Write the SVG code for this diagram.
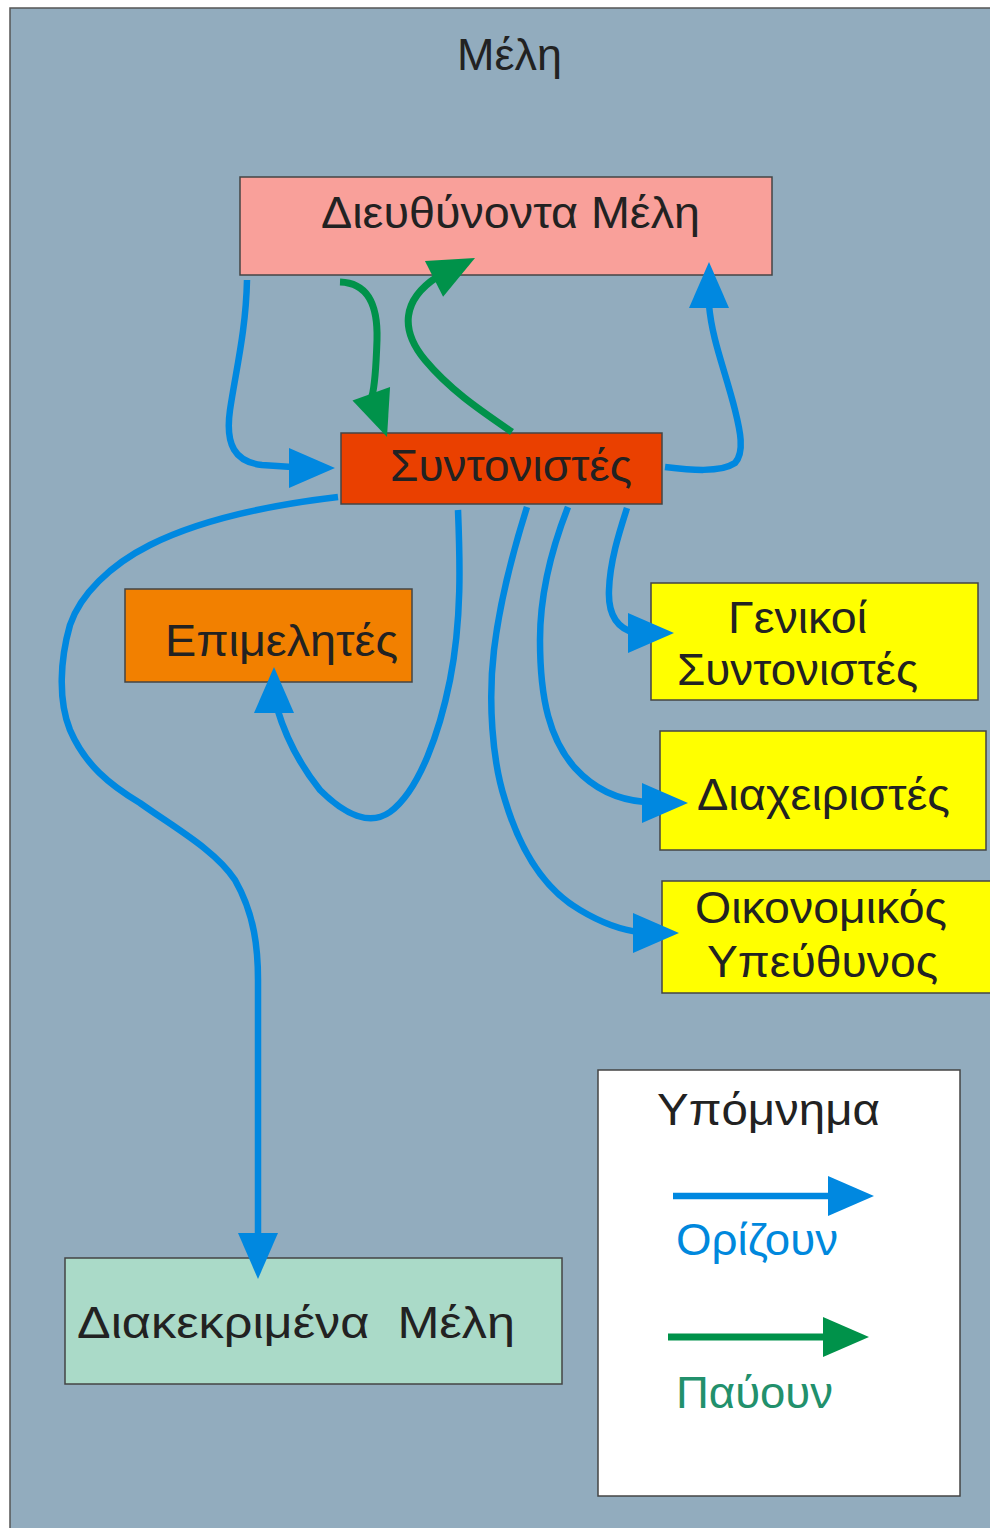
<svg xmlns="http://www.w3.org/2000/svg" width="990" height="1528" viewBox="0 0 990 1528">
<style>
.box{stroke:#444;stroke-width:1.5}
.t{font-family:"Liberation Sans",Arial,sans-serif;font-size:44px;fill:#222}
.cb{fill:none;stroke:#0088e0;stroke-width:6.5;stroke-linecap:butt;stroke-linejoin:round}
.cg{fill:none;stroke:#00924a;stroke-width:7;stroke-linecap:butt;stroke-linejoin:round}
.ab{fill:#0088e0}
.ag{fill:#00924a}
</style>
<defs>
<path id="ah" d="M0,0 L-46,-20 L-46,20 Z"/>
</defs>
<rect x="10" y="8" width="990" height="1530" fill="#92acbe" stroke="#555" stroke-width="1.5"/>
<text class="t" x="457" y="70" font-size="48" textLength="105" lengthAdjust="spacingAndGlyphs">Μέλη</text>

<g id="dieuthynonta">
<rect class="box" x="240" y="177" width="532" height="98" fill="#f9a09a"/>
<text class="t" x="321" y="228" textLength="379" lengthAdjust="spacingAndGlyphs">Διευθύνοντα Μέλη</text>
</g>
<g id="syntonistes">
<rect class="box" x="341" y="433" width="321" height="71" fill="#ea4000"/>
<text class="t" x="390" y="481" textLength="242" lengthAdjust="spacingAndGlyphs">Συντονιστές</text>
</g>
<g id="epimelites">
<rect class="box" x="125" y="589" width="287" height="93" fill="#f28000"/>
<text class="t" x="165" y="656" textLength="233" lengthAdjust="spacingAndGlyphs">Επιμελητές</text>
</g>
<g id="genikoi">
<rect class="box" x="651" y="583" width="327" height="117" fill="#ffff00"/>
<text class="t" x="728" y="633" textLength="139" lengthAdjust="spacingAndGlyphs">Γενικοί</text>
<text class="t" x="677" y="685" textLength="241" lengthAdjust="spacingAndGlyphs">Συντονιστές</text>
</g>
<g id="diaxeiristes">
<rect class="box" x="660" y="731" width="326" height="119" fill="#ffff00"/>
<text class="t" x="697" y="810" textLength="253" lengthAdjust="spacingAndGlyphs">Διαχειριστές</text>
</g>
<g id="oikonomikos">
<rect class="box" x="662" y="881" width="335" height="112" fill="#ffff00"/>
<text class="t" x="695" y="923" textLength="252" lengthAdjust="spacingAndGlyphs">Οικονομικός</text>
<text class="t" x="707" y="977" textLength="231" lengthAdjust="spacingAndGlyphs">Υπεύθυνος</text>
</g>
<g id="diakekrimena">
<rect class="box" x="65" y="1258" width="497" height="126" fill="#aadac8"/>
<text class="t" x="77" y="1338" textLength="438" lengthAdjust="spacingAndGlyphs" xml:space="preserve">Διακεκριμένα  Μέλη</text>
</g>
<g id="legend">
<rect class="box" x="598" y="1070" width="362" height="426" fill="#ffffff"/>
<text class="t" x="657" y="1125" textLength="223" lengthAdjust="spacingAndGlyphs">Υπόμνημα</text>
<line class="cb" x1="673" y1="1196" x2="830" y2="1196"/>
<use href="#ah" class="ab" transform="translate(874,1196)"/>
<text class="t" x="676" y="1255" fill="#0088dd" style="fill:#0088dd" textLength="162" lengthAdjust="spacingAndGlyphs">Ορίζουν</text>
<line class="cg" x1="668" y1="1337" x2="825" y2="1337"/>
<use href="#ah" class="ag" transform="translate(869,1337)"/>
<text class="t" x="676" y="1408" font-size="46" style="fill:#22906c" textLength="157" lengthAdjust="spacingAndGlyphs">Παύουν</text>
</g>

<g id="connectors">
<path class="cb" d="M247,280 C246,330 236,370 230,410 C225,445 235,462 262,465 L292,467"/>
<use href="#ah" class="ab" transform="translate(335,468)"/>
<path class="cg" d="M340,282 C368,283 378,305 377,340 C376,370 375,385 372,396"/>
<use href="#ah" class="ag" transform="translate(387,437) rotate(70)"/>
<path class="cg" d="M512,432 C480,410 450,390 425,360 C400,330 402,300 437,277"/>
<use href="#ah" class="ag" transform="translate(475,258) rotate(-27)"/>
<path class="cb" d="M665,467 C690,470 720,473 735,463 C745,452 740,430 735,410 C725,370 712,340 709,305"/>
<use href="#ah" class="ab" transform="translate(709,262) rotate(-90)"/>
<path class="cb" d="M338,497 C270,505 200,520 150,545 C110,565 80,595 70,625 C60,660 58,700 70,730 C85,765 110,785 140,803 C175,828 215,850 235,880 C255,915 258,950 258,980 L258,1236"/>
<use href="#ah" class="ab" transform="translate(258,1279) rotate(90)"/>
<path class="cb" d="M458,510 C460,560 462,620 450,680 C440,730 420,790 390,812 C370,826 345,815 320,790 C300,765 285,735 277,708"/>
<use href="#ah" class="ab" transform="translate(274,667) rotate(-90)"/>
<path class="cb" d="M527,507 C515,545 500,600 494,650 C488,700 492,760 505,800 C520,850 545,890 580,910 C600,922 620,930 640,932"/>
<use href="#ah" class="ab" transform="translate(679,933)"/>
<path class="cb" d="M568,507 C555,540 540,590 540,640 C540,700 550,740 575,768 C595,790 620,800 645,802"/>
<use href="#ah" class="ab" transform="translate(688,803)"/>
<path class="cb" d="M627,508 C620,530 610,560 609,590 C608,612 615,628 635,633"/>
<use href="#ah" class="ab" transform="translate(674,633)"/>
</g>
</svg>
